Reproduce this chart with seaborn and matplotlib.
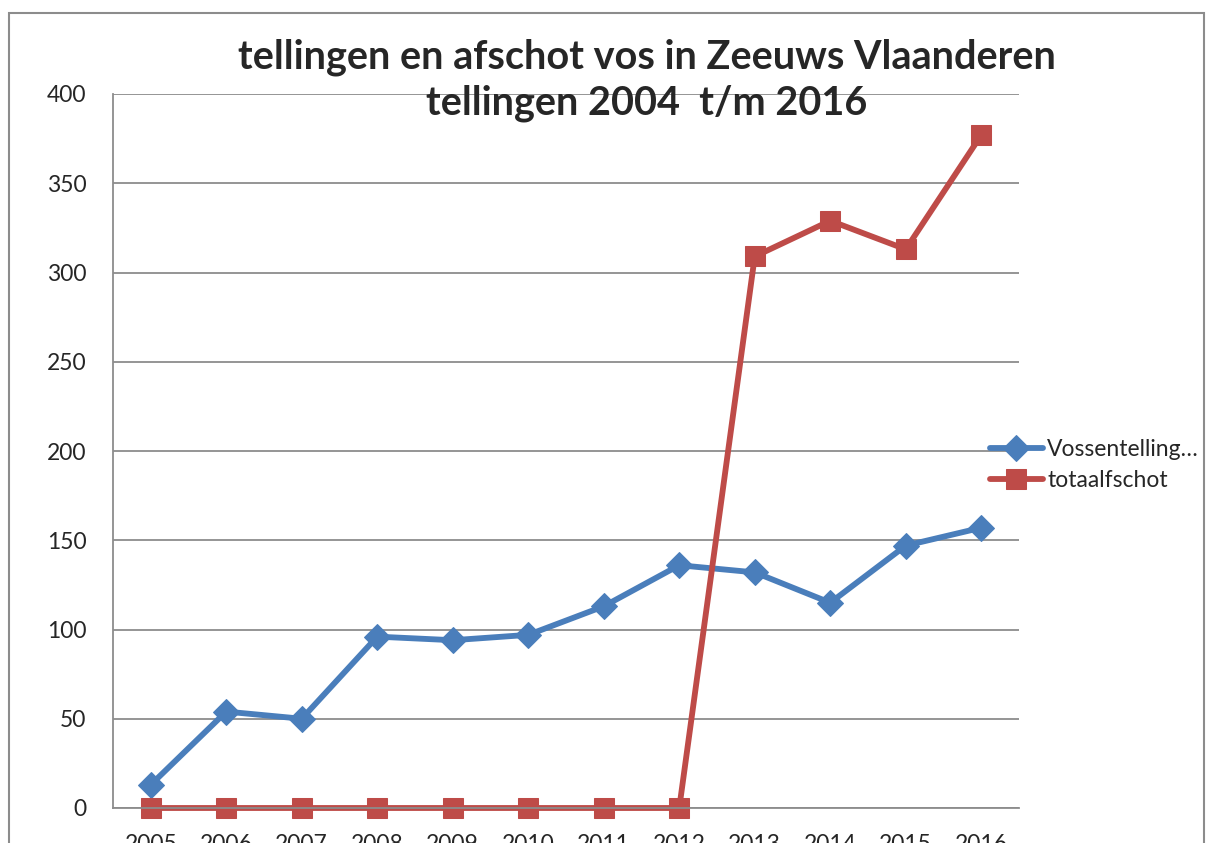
import matplotlib
matplotlib.use('Agg')
import matplotlib.pyplot as plt
import seaborn as sns
import pandas as pd
from matplotlib.patches import Rectangle

jaren = ['2005', '2006', '2007', '2008', '2009', '2010', '2011', '2012',
         '2013', '2014', '2015', '2016']
vossentelling = [13, 54, 50, 96, 94, 97, 113, 136, 132, 115, 147, 157]
totaalafschot = [0, 0, 0, 0, 0, 0, 0, 0, 309, 329, 313, 377]

sns.set_style('white')
plt.rcParams['font.family'] = ['Lato', 'DejaVu Sans']

df = pd.DataFrame({'jaar': jaren, 'tel': vossentelling, 'afschot': totaalafschot})
df['pos'] = range(len(df))

fig = plt.figure(figsize=(12.11, 8.43), dpi=100)
ax = fig.add_axes([113 / 1211, 1 - 808 / 843, (1019 - 113) / 1211, (808 - 94) / 843])

# chart frame
fig.patches.append(Rectangle((9 / 1211, -0.1), (1204 - 9) / 1211, 1.1 - 13 / 843,
                             transform=fig.transFigure, fill=False,
                             edgecolor='#8c8c8c', linewidth=1.5))

sns.lineplot(data=df, x='pos', y='tel', ax=ax, color='#4A7EBB', linewidth=4.2,
             marker='D', markersize=13, markeredgecolor='#4A7EBB',
             label='Vossentelling…', clip_on=False)
sns.lineplot(data=df, x='pos', y='afschot', ax=ax, color='#BE4B48', linewidth=4.2,
             marker='s', markersize=14, markeredgecolor='#BE4B48',
             label='totaalfschot', clip_on=False)

ax.set_xlim(-0.5, len(jaren) - 0.5)
ax.set_ylim(0, 400)
ax.set_yticks(range(0, 401, 50))
ax.set_xticks(range(len(jaren)))
ax.set_xticklabels(jaren)
ax.set_xticks([i - 0.5 for i in range(len(jaren) + 1)], minor=True)
ax.tick_params(axis='x', which='major', length=0, pad=19, labelsize=16.5)
ax.tick_params(axis='x', which='minor', length=7, color='#8c8c8c', width=1.3)
ax.tick_params(axis='y', length=7, color='#8c8c8c', width=1.3, labelsize=16.5, pad=12)
ax.set_xlabel('')
ax.set_ylabel('')
ax.grid(axis='y', color='#8c8c8c', linewidth=1.3)
for side in ['top', 'right']:
    ax.spines[side].set_visible(False)
for side in ['left', 'bottom']:
    ax.spines[side].set_color('#8c8c8c')
    ax.spines[side].set_linewidth(1.3)
ax.set_axisbelow(True)

fig.text(0.534, 0.905, 'tellingen en afschot vos in Zeeuws Vlaanderen\ntellingen 2004  t/m 2016',
         ha='center', va='center', fontsize=28.5, fontweight='bold', linespacing=1.3)

ax.legend(loc='center left', bbox_to_anchor=(990 / 1211, 1 - 465 / 843),
          bbox_transform=fig.transFigure, frameon=False, fontsize=16.5,
          handlelength=2.3, handletextpad=0.2, borderpad=0, borderaxespad=0,
          labelspacing=0.45)

fig.savefig('out.png', dpi=100)
